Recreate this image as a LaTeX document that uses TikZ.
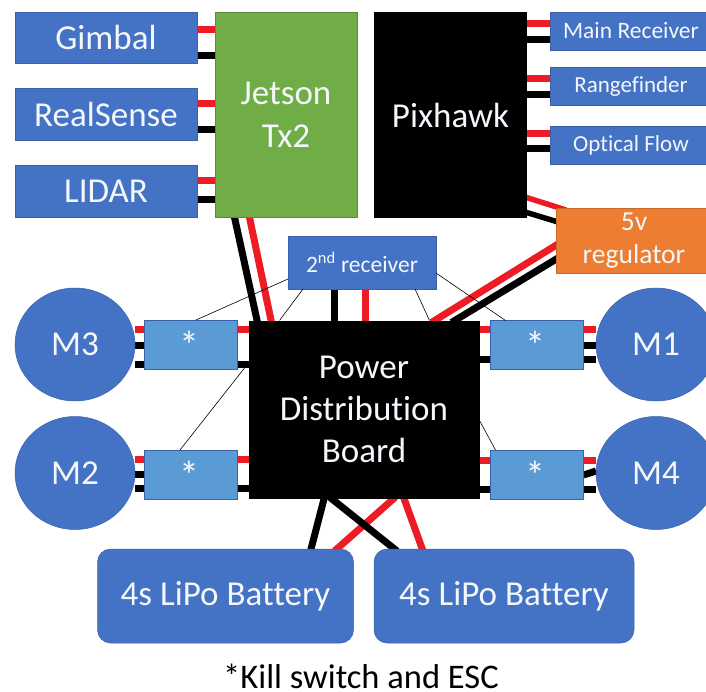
\documentclass[tikz,border=0pt]{standalone}
\usepackage{fontspec}
\setmainfont[Ligatures={NoCommon}]{Carlito}
\usetikzlibrary{calc,backgrounds,shapes.geometric}
\definecolor{bluebox}{HTML}{4472C4}
\definecolor{blueedge}{HTML}{3A62AC}
\definecolor{lightbox}{HTML}{5B9BD5}
\definecolor{greenbox}{HTML}{70AD47}
\definecolor{orangebox}{HTML}{ED7D31}
\definecolor{wirered}{HTML}{ED1C24}
\definecolor{wtext}{HTML}{F4F7FB}
\tikzset{
  x=1pt,y=-1pt,
  base/.style={inner sep=0pt,outer sep=0pt,align=center,text=wtext,font=\fontsize{#1}{#1}\selectfont},
  blueb/.style={base=#1,rectangle,fill=bluebox,draw=blueedge,line width=.5pt},
  blackb/.style={base=#1,rectangle,fill=black},
  motor/.style={base=35,ellipse,fill=bluebox,draw=blueedge,line width=.5pt,minimum width=120pt,minimum height=113pt},
  escbox/.style={base=30,rectangle,fill=lightbox,draw=blueedge,line width=.5pt,minimum width=93pt,minimum height=49pt},
  batt/.style={base=35,rectangle,rounded corners=13pt,fill=bluebox,draw=blueedge,line width=.5pt,minimum height=94pt},
  rw/.style={draw=wirered,line width=7pt},
  bw/.style={draw=black,line width=7pt},
  thin wire/.style={draw=black,line width=.6pt},
  size/.style n args={2}{minimum width=#1pt,minimum height=#2pt},
}
\begin{document}
\begin{tikzpicture}
\useasboundingbox (0,0) rectangle (706,692);
% devices
\node[blueb=35,size={182}{51}] (gimbal) at (106,37.5) {\raisebox{1pt}{Gimbal}};
\node[blueb=35,size={182}{52}] (realsense) at (106,114) {\raisebox{0pt}{RealSense}};
\node[blueb=35,size={182}{52}] (lidar) at (106,191) {LIDAR};
\node[base=35,rectangle,fill=greenbox,draw=greenbox!80!black,line width=.5pt,size={142}{205}] (jetson) at (286,114.5) {Jetson\\[8pt]Tx2};
\node[blackb=35,size={153}{206}] (pixhawk) at (450.5,115) {Pixhawk};
\node[blueb=23.5,size={162}{38}] (mainrx) at (631,31) {Main Receiver};
\node[blueb=23,size={162}{38}] (range) at (631,86) {Rangefinder};
\node[blueb=23,size={162}{38}] (optical) at (631,145) {Optical Flow};
\node[base=27.5,rectangle,fill=orangebox,draw=orangebox!85!black,line width=.5pt,size={156}{65}] (reg) at (634,240.5) {\raisebox{-3pt}{5v}\\[5.5pt]\raisebox{-3pt}{regulator}};
\node[blueb=23.5,size={148}{53}] (rx2) at (362,262.5) {2\textsuperscript{nd} receiver};
\node[blackb=35,size={231}{178.5}] (pdb) at (364,409.75) {Power\\[7pt]Distribution\\[7pt]Board};
\node[motor] (m3) at (75,344.5) {M3};
\node[motor] (m2) at (75,473) {M2};
\node[motor] (m1) at (656,344.5) {M1};
\node[motor] (m4) at (656,473) {M4};
\node[escbox] (e3) at (190.5,344.5) {};
\node[escbox] (e2) at (190.5,474.5) {};
\node[escbox] (e1) at (537,345) {};
\node[escbox] (e4) at (537,474.5) {};
\foreach \e in {e1,e2,e3,e4}{\node[base=40,anchor=north] (s\e) at ($(\e.north)+(-1.5,11)$) {*};}
\node[batt,minimum width=256pt] (b1) at (225.5,596) {4s LiPo Battery};
\node[batt,minimum width=260pt] (b2) at (504,596) {4s LiPo Battery};
\node[base=34.5,text=black,anchor=base] (note) at (361,688) {*Kill switch and ESC};
\begin{scope}[on background layer]
  \fill[white] (0,0) rectangle (706,692);
  % sensors to Jetson
  \draw[rw] ($(gimbal.north east)+(0,17.5)$) -- ($(jetson.north west)+(0,17.5)$);
  \draw[bw] ($(gimbal.north east)+(0,44)$) -- ($(jetson.north west)+(0,44)$);
  \draw[rw] ($(realsense.north east)+(0,16)$) -- ($(jetson.north west)+(0,92)$);
  \draw[bw] ($(realsense.north east)+(0,42)$) -- ($(jetson.north west)+(0,118)$);
  \draw[rw] ($(lidar.north east)+(0,16)$) -- ($(jetson.north west)+(0,169)$);
  \draw[bw] ($(lidar.north east)+(0,35)$) -- ($(jetson.north west)+(0,188)$);
  % sensors to Pixhawk
  \draw[rw] ($(pixhawk.north east)+(0,12)$) -- ($(mainrx.north west)+(0,12)$);
  \draw[bw] ($(pixhawk.north east)+(0,28)$) -- ($(mainrx.north west)+(0,28)$);
  \draw[rw] ($(pixhawk.north east)+(0,67)$) -- ($(range.north west)+(0,12)$);
  \draw[bw] ($(pixhawk.north east)+(0,83)$) -- ($(range.north west)+(0,28)$);
  \draw[rw] ($(pixhawk.north east)+(0,122)$) -- ($(optical.north west)+(0,8)$);
  \draw[bw] ($(pixhawk.north east)+(0,137)$) -- ($(optical.north west)+(0,23)$);
  % regulator
  \draw[rw,line width=5.5pt] ($(pixhawk.south east)+(-2,-21)$) -- ($(reg.north west)+(10,2)$);
  \draw[bw,line width=5.5pt] ($(pixhawk.south east)+(-2,-6)$) -- ($(reg.north west)+(2,14)$);
  \draw[rw] ($(reg.north west)+(2,36)$) -- ($(pdb.north east)+(-48,2)$);
  \draw[bw] ($(reg.north west)+(2,50)$) -- ($(pdb.north east)+(-28,2)$);
  % Jetson to PDB
  \draw[bw] ($(jetson.south west)+(19,-2)$) -- ($(pdb.north west)+(9,2)$);
  \draw[rw] ($(jetson.south west)+(34,-2)$) -- ($(pdb.north west)+(23,2)$);
  % 2nd receiver
  \draw[bw] (rx2.south -| 334,0) -- (pdb.north -| 334,0);
  \draw[rw] (rx2.south -| 365,0) -- (pdb.north -| 365,0);
  % motor wires
  \draw[rw] (m3.east |- 0,329) -- (e3.west |- 0,329);
  \draw[bw] (m3.east |- 0,345) -- (e3.west |- 0,345);
  \draw[bw] (m3.east |- 0,364) -- (e3.west |- 0,364);
  \draw[rw] (m2.east |- 0,459) -- (e2.west |- 0,459);
  \draw[bw] (m2.east |- 0,474) -- (e2.west |- 0,474);
  \draw[bw] (m2.east |- 0,488) -- (e2.west |- 0,488);
  \draw[rw] (e1.east |- 0,329) -- (m1.west |- 0,329);
  \draw[bw] (e1.east |- 0,345) -- (m1.west |- 0,345);
  \draw[bw] (e1.east |- 0,359) -- (m1.west |- 0,359);
  \draw[rw] (e4.east |- 0,460) -- (m4.west |- 0,460);
  \draw[bw] (e4.east |- 0,475) -- (m4.west |- 0,471);
  \draw[bw] (e4.east |- 0,489) -- (m4.west |- 0,489);
  % ESC to PDB
  \draw[rw] (e3.east |- 0,329) -- (pdb.west |- 0,329);
  \draw[bw] (e3.east |- 0,364) -- (pdb.west |- 0,364);
  \draw[rw] (e2.east |- 0,459) -- (pdb.west |- 0,459);
  \draw[bw] (e2.east |- 0,488) -- (pdb.west |- 0,488);
  \draw[rw] (pdb.east |- 0,329) -- (e1.west |- 0,329);
  \draw[bw] (pdb.east |- 0,359) -- (e1.west |- 0,359);
  \draw[rw] (pdb.east |- 0,460) -- (e4.west |- 0,460);
  \draw[bw] (pdb.east |- 0,489) -- (e4.west |- 0,489);
  % batteries
  \draw[bw] ($(pdb.south west)+(76,-2)$) -- ($(b1.north west)+(213,2)$);
  \draw[rw] ($(pdb.south west)+(147,-2)$) -- ($(b1.north west)+(237,2)$);
  \draw[bw] ($(pdb.south west)+(81,-2)$) -- ($(b2.north west)+(23,2)$);
  \draw[rw] ($(pdb.south west)+(155,-2)$) -- ($(b2.north west)+(49,2)$);
\end{scope}
% thin signal wires
\draw[thin wire] (rx2.north west |- 0,279) -- (e3.north west -| 196,0);
\draw[thin wire] ($(rx2.south west)+(15,0)$) -- ($(pdb.north west)+(31,0)$);
\draw[thin wire] ($(rx2.south east)+(-21,0)$) -- ($(pdb.north east)+(-50,0)$);
\draw[thin wire] ($(rx2.north east)+(0,37)$) -- ($(e1.north west)+(15,0)$);
\draw[thin wire] ($(pdb.north west)+(-4,47.5)$) -- ($(e2.north west)+(36,0)$);
\draw[thin wire] ($(pdb.north east)+(0,100)$) -- ($(e4.north west)+(5,0)$);
\end{tikzpicture}
\end{document}
